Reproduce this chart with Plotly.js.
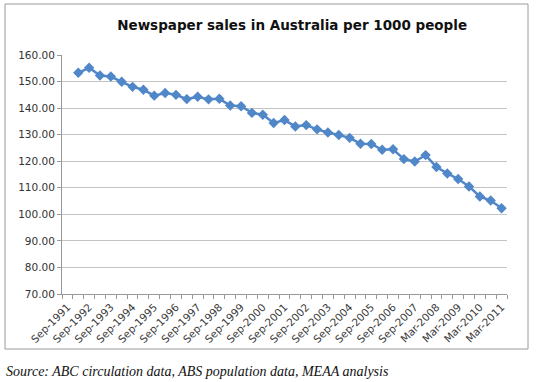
<!DOCTYPE html>
<html>
<head>
<meta charset="utf-8">
<script src="https://cdn.plot.ly/plotly-3.0.1.min.js"></script>
<style>
html,body{margin:0;padding:0;background:#fff;}
#chart{width:536px;height:382px;}
</style>
</head>
<body>
<div id="chart"></div>
<script>
var categories = [
  'Sep-1991','Mar-1992','Sep-1992','Mar-1993','Sep-1993','Mar-1994','Sep-1994','Mar-1995',
  'Sep-1995','Mar-1996','Sep-1996','Mar-1997','Sep-1997','Mar-1998','Sep-1998','Mar-1999',
  'Sep-1999','Mar-2000','Sep-2000','Mar-2001','Sep-2001','Mar-2002','Sep-2002','Mar-2003',
  'Sep-2003','Mar-2004','Sep-2004','Mar-2005','Sep-2005','Mar-2006','Sep-2006','Mar-2007',
  'Sep-2007','Dec-2007','Mar-2008','Sep-2008','Mar-2009','Sep-2009','Mar-2010','Sep-2010','Mar-2011'
];
var salesPer1000 = [
  null, 153.3, 155.2, 152.3, 151.9, 149.9, 148.0, 146.9, 144.7, 145.7,
  145.0, 143.4, 144.3, 143.3, 143.5, 141.0, 140.7, 138.2, 137.5, 134.4,
  135.5, 133.1, 133.6, 132.0, 130.8, 129.9, 128.8, 126.6, 126.5, 124.3,
  124.5, 120.8, 119.9, 122.3, 117.8, 115.4, 113.3, 110.5, 106.7, 105.2, 102.3
];
var tickLabels = [
  'Sep-1991','','Sep-1992','','Sep-1993','','Sep-1994','',
  'Sep-1995','','Sep-1996','','Sep-1997','','Sep-1998','',
  'Sep-1999','','Sep-2000','','Sep-2001','','Sep-2002','',
  'Sep-2003','','Sep-2004','','Sep-2005','','Sep-2006','',
  'Sep-2007','','Mar-2008','','Mar-2009','','Mar-2010','','Mar-2011'
];
var titleText = 'Newspaper sales in Australia per 1000 people';
var sourceText = 'Source: ABC circulation data, ABS population data, MEAA analysis';

var blue = '#5087c8';
var trace = {
  x: categories,
  y: salesPer1000,
  type: 'scatter',
  mode: 'lines+markers',
  line: {color: blue, width: 2.5},
  marker: {symbol: 'diamond', size: 8, color: blue},
  connectgaps: false,
  hoverinfo: 'x+y'
};

var layout = {
  width: 536,
  height: 382,
  margin: {l: 62, r: 29, t: 55, b: 88},
  paper_bgcolor: '#fff',
  plot_bgcolor: '#fff',
  showlegend: false,
  title: {
    text: '<b>' + titleText + '</b>',
    font: {family: 'DejaVu Sans', size: 13.5, color: '#111'},
    x: 0.545, xanchor: 'center',
    y: 0.935, yanchor: 'middle'
  },
  xaxis: {
    type: 'category',
    range: [-0.5, categories.length - 0.5],
    autorange: false,
    tickmode: 'array',
    tickvals: categories,
    ticktext: tickLabels,
    tickangle: -45,
    tickson: 'boundaries',
    ticks: 'outside',
    ticklen: 4,
    tickcolor: '#999',
    ticklabelstandoff: 2,
    showline: true,
    linecolor: '#999',
    linewidth: 1,
    showgrid: false,
    zeroline: false,
    tickfont: {family: 'DejaVu Sans', size: 10.5, color: '#3a3a3a'}
  },
  yaxis: {
    range: [70, 160],
    autorange: false,
    dtick: 10,
    tick0: 70,
    tickformat: '.2f',
    ticks: 'outside',
    ticklen: 4,
    tickcolor: '#999',
    showline: true,
    linecolor: '#999',
    linewidth: 1,
    gridcolor: '#c4c4c4',
    gridwidth: 1,
    zeroline: false,
    tickfont: {family: 'DejaVu Sans', size: 10.5, color: '#333'}
  },
  shapes: [{
    type: 'rect',
    xref: 'paper', yref: 'paper',
    x0: (5 - 62) / 445, x1: (528 - 62) / 445,
    y0: (294 - 349) / 239, y1: (294 - 4) / 239,
    line: {color: '#9a9a9a', width: 1},
    fillcolor: 'rgba(0,0,0,0)',
    layer: 'below'
  }],
  annotations: [{
    text: '<i>' + sourceText + '</i>',
    xref: 'paper', yref: 'paper',
    x: (4 - 62) / 445, xanchor: 'left',
    y: (294 - 371) / 239, yanchor: 'middle',
    showarrow: false,
    font: {family: 'Liberation Serif', size: 14, color: '#111'}
  }]
};

Plotly.newPlot('chart', [trace], layout, {displayModeBar: false, staticPlot: true});
</script>
</body>
</html>
